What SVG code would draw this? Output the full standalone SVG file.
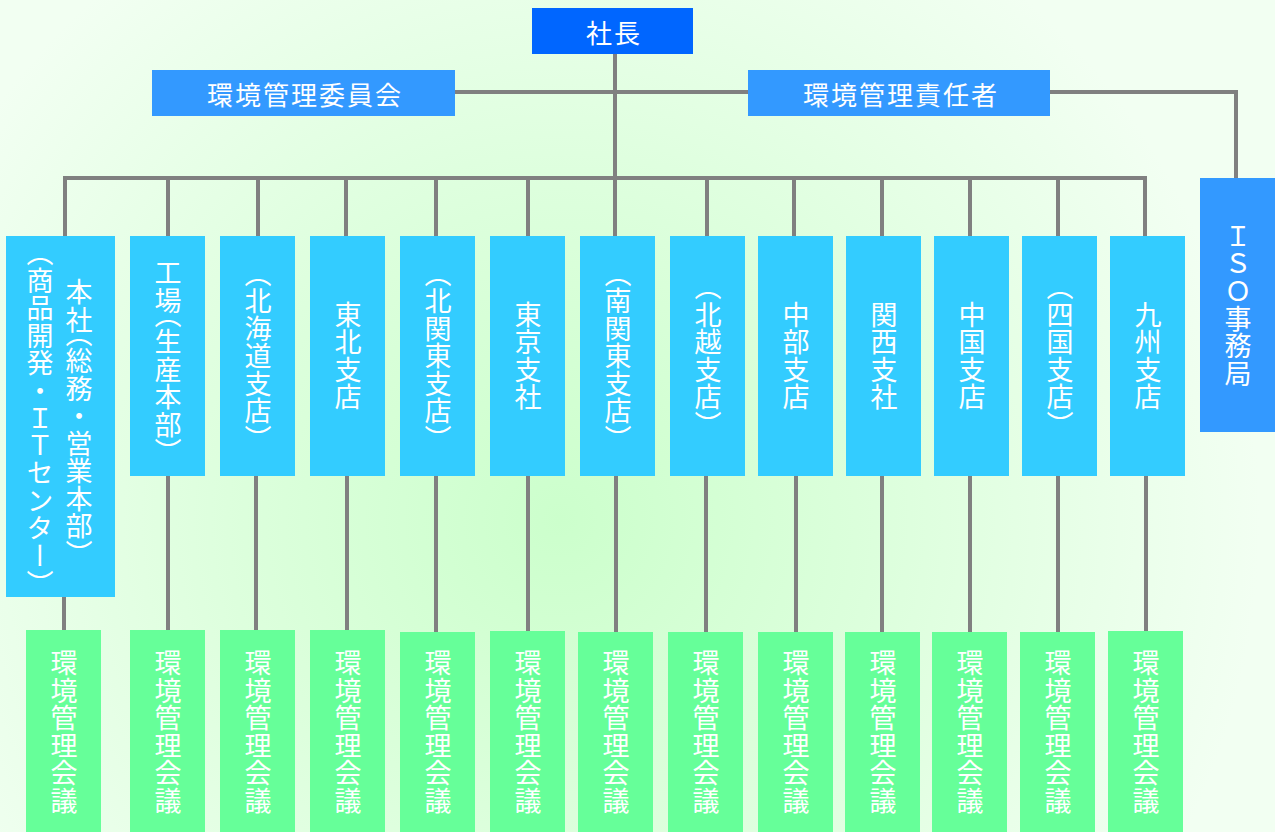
<svg xmlns="http://www.w3.org/2000/svg" width="1275" height="832" viewBox="0 0 1275 832">
<defs>
<radialGradient id="bg" gradientUnits="userSpaceOnUse" cx="560" cy="520" r="700">
<stop offset="0" stop-color="#ccffcc"/>
<stop offset="0.45" stop-color="#dcffdc"/>
<stop offset="1" stop-color="#f2fff2"/>
</radialGradient>
<style>
.t{font-family:"Noto Sans CJK JP","Noto Sans CJK SC",sans-serif;fill:#ffffff;font-size:27px;}
.h{text-anchor:middle;dominant-baseline:central;font-size:26px;letter-spacing:2px;}
.v{writing-mode:vertical-rl;text-anchor:middle;letter-spacing:0.5px;}
.p{font-feature-settings:"vhal";}
.top{fill:#0066ff;}
.mid{fill:#3399ff;}
.br{fill:#33ccff;}
.mt{fill:#66ff99;}
.ln{fill:none;stroke:#808080;stroke-width:4;}
</style>
</defs>
<rect x="0" y="0" width="1275" height="832" fill="url(#bg)"/>
<g id="connectors" class="ln">
<path d="M615 54V236"/>
<path d="M455 92H748"/>
<path d="M1050 92H1236V178"/>
<path d="M65 236V178H1145V236"/>
<path d="M168 178V236M258 178V236M346 178V236M436 178V236M528 178V236M707 178V236M794 178V236M882 178V236M970 178V236M1058 178V236"/>
<path d="M64 597V632M168 476V632M256 476V632M347 476V632M436 476V632M528 476V632M616 476V632M706 476V632M796 476V632M882 476V632M970 476V632M1058 476V632M1146 476V632"/>
</g>
<g id="president"><rect class="top" x="532" y="8" width="161" height="46"/><text class="t h" x="614" y="31">社長</text></g>
<g id="committee"><rect class="mid" x="152" y="70" width="303" height="46"/><text class="t h" x="305" y="93">環境管理委員会</text></g>
<g id="manager"><rect class="mid" x="748" y="70" width="302" height="46"/><text class="t h" x="901" y="93">環境管理責任者</text></g>
<g id="iso"><rect class="mid" x="1200" y="178" width="75" height="254"/><text class="t v" x="1238" y="305">ＩＳＯ事務局</text></g>
<g id="honsha"><rect class="br" x="6" y="236" width="109" height="361"/><text class="t v" x="79" y="416">本社<tspan class="p">（</tspan>総務・営業本部<tspan class="p">）</tspan></text><text class="t v" x="40" y="418"><tspan class="p">（</tspan>商品開発・ＩＴセンター<tspan class="p">）</tspan></text></g>
<g id="kojo"><rect class="br" x="130" y="236" width="75" height="240"/><text class="t v" x="168" y="356">工場<tspan class="p">（</tspan>生産本部<tspan class="p">）</tspan></text></g>
<g id="hokkaido"><rect class="br" x="220" y="236" width="75" height="240"/><text class="t v" x="258" y="356"><tspan class="p">（</tspan>北海道支店<tspan class="p">）</tspan></text></g>
<g id="tohoku"><rect class="br" x="310" y="236" width="75" height="240"/><text class="t v" x="348" y="356">東北支店</text></g>
<g id="kitakanto"><rect class="br" x="400" y="236" width="75" height="240"/><text class="t v" x="438" y="356"><tspan class="p">（</tspan>北関東支店<tspan class="p">）</tspan></text></g>
<g id="tokyo"><rect class="br" x="490" y="236" width="75" height="240"/><text class="t v" x="528" y="356">東京支社</text></g>
<g id="minamikanto"><rect class="br" x="580" y="236" width="75" height="240"/><text class="t v" x="618" y="356"><tspan class="p">（</tspan>南関東支店<tspan class="p">）</tspan></text></g>
<g id="hokuetsu"><rect class="br" x="670" y="236" width="75" height="240"/><text class="t v" x="708" y="356"><tspan class="p">（</tspan>北越支店<tspan class="p">）</tspan></text></g>
<g id="chubu"><rect class="br" x="758" y="236" width="75" height="240"/><text class="t v" x="796" y="356">中部支店</text></g>
<g id="kansai"><rect class="br" x="846" y="236" width="75" height="240"/><text class="t v" x="884" y="356">関西支社</text></g>
<g id="chugoku"><rect class="br" x="934" y="236" width="75" height="240"/><text class="t v" x="972" y="356">中国支店</text></g>
<g id="shikoku"><rect class="br" x="1022" y="236" width="75" height="240"/><text class="t v" x="1060" y="356"><tspan class="p">（</tspan>四国支店<tspan class="p">）</tspan></text></g>
<g id="kyushu"><rect class="br" x="1110" y="236" width="75" height="240"/><text class="t v" x="1148" y="356">九州支店</text></g>
<g id="m1"><rect class="mt" x="26" y="630" width="75" height="202"/><text class="t v" x="64" y="732">環境管理会議</text></g>
<g id="m2"><rect class="mt" x="130" y="630" width="75" height="202"/><text class="t v" x="168" y="732">環境管理会議</text></g>
<g id="m3"><rect class="mt" x="220" y="630" width="75" height="202"/><text class="t v" x="258" y="732">環境管理会議</text></g>
<g id="m4"><rect class="mt" x="310" y="630" width="75" height="202"/><text class="t v" x="348" y="732">環境管理会議</text></g>
<g id="m5"><rect class="mt" x="400" y="632" width="75" height="200"/><text class="t v" x="438" y="732">環境管理会議</text></g>
<g id="m6"><rect class="mt" x="490" y="631" width="75" height="201"/><text class="t v" x="528" y="732">環境管理会議</text></g>
<g id="m7"><rect class="mt" x="578" y="632" width="75" height="200"/><text class="t v" x="616" y="732">環境管理会議</text></g>
<g id="m8"><rect class="mt" x="668" y="632" width="75" height="200"/><text class="t v" x="706" y="732">環境管理会議</text></g>
<g id="m9"><rect class="mt" x="758" y="632" width="75" height="200"/><text class="t v" x="796" y="732">環境管理会議</text></g>
<g id="m10"><rect class="mt" x="845" y="632" width="75" height="200"/><text class="t v" x="883" y="732">環境管理会議</text></g>
<g id="m11"><rect class="mt" x="932" y="632" width="75" height="200"/><text class="t v" x="970" y="732">環境管理会議</text></g>
<g id="m12"><rect class="mt" x="1020" y="632" width="75" height="200"/><text class="t v" x="1058" y="732">環境管理会議</text></g>
<g id="m13"><rect class="mt" x="1108" y="631" width="75" height="201"/><text class="t v" x="1146" y="732">環境管理会議</text></g>
</svg>
